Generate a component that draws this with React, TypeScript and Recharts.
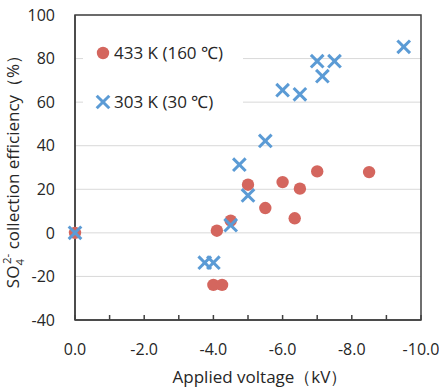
import React from 'react';
import {
  ScatterChart,
  Scatter,
  XAxis,
  YAxis,
  CartesianGrid,
  Legend,
  ReferenceArea,
} from 'recharts';

// Series 1: 433 K (160 ℃)
const hotVoltage = [0, -4.1, -4.0, -4.25, -4.5, -5.0, -5.5, -6.0, -6.5, -6.35, -7.0, -8.5];
const hotEfficiency = [0, 1, -23.9, -23.9, 5.6, 22.1, 11.4, 23.3, 20.3, 6.7, 28.2, 27.9];

// Series 2: 303 K (30 ℃)
const coldVoltage = [0, -3.75, -4.0, -4.5, -4.75, -5.0, -5.5, -6.0, -6.5, -7.0, -7.15, -7.5, -9.5];
const coldEfficiency = [0, -13.7, -13.7, 3.5, 31.3, 17.2, 42.2, 65.5, 63.6, 78.8, 71.9, 78.8, 85.4];

const xTicks = [0, -1, -2, -3, -4, -5, -6, -7, -8, -9, -10];
const yTicks = [-40, -20, 0, 20, 40, 60, 80, 100];

const hotLabel = '433 K (160 ℃)';
const coldLabel = '303 K (30 ℃)';
const xTitle = 'Applied voltage（kV）';

const RED = '#D4665E';
const BLUE = '#5B9BD5';
const TEXT = '#262626';
const FONT = "'Open Sans', sans-serif";

const hotData = hotVoltage.map((v, i) => ({ v, e: hotEfficiency[i] }));
const coldData = coldVoltage.map((v, i) => ({ v, e: coldEfficiency[i] }));

const Dot = (props: any) => {
  const { cx, cy } = props;
  if (cx == null || cy == null) return null;
  return <circle cx={cx} cy={cy} r={6.2} fill={RED} />;
};

const Cross = (props: any) => {
  const { cx, cy } = props;
  if (cx == null || cy == null) return null;
  const s = 6.3;
  return (
    <g stroke={BLUE} strokeWidth={3}>
      <line x1={cx - s} y1={cy - s} x2={cx + s} y2={cy + s} />
      <line x1={cx - s} y1={cy + s} x2={cx + s} y2={cy - s} />
    </g>
  );
};

const YTitle = (props: any) => {
  const vb = props.viewBox || { x: 0, y: 15, width: 75, height: 305 };
  const cx = vb.x + 19;
  const cy = vb.y + vb.height / 2;
  return (
    <text
      transform={`translate(${cx},${cy}) rotate(-90)`}
      textAnchor="middle"
      fontSize={17}
      fontFamily={FONT}
      fill={TEXT}
    >
      SO
      <tspan dy={5} fontSize={11.5}>4</tspan>
      <tspan dy={-13} dx={-5} fontSize={11.5}>2-</tspan>
      <tspan dy={8}> collection efficiency（%）</tspan>
    </text>
  );
};

const XTitle = (props: any) => {
  const vb = props.viewBox || { x: 75, y: 320, width: 346, height: 72 };
  return (
    <text
      x={vb.x + vb.width / 2 + 12}
      y={vb.y + 63}
      textAnchor="middle"
      fontSize={17}
      fontFamily={FONT}
      fill={TEXT}
    >
      {xTitle}
    </text>
  );
};

const LegendBox = () => (
  <div
    style={{
      position: 'relative',
      width: 160,
      height: 85,
      background: '#fff',
      fontFamily: FONT,
      fontSize: 17,
      color: TEXT,
    }}
  >
    <svg width={20} height={20} style={{ position: 'absolute', left: 10, top: 8 }}>
      <Dot cx={10} cy={10} />
    </svg>
    <div style={{ position: 'absolute', left: 31, top: 7, whiteSpace: 'nowrap', lineHeight: '22px' }}>
      {hotLabel}
    </div>
    <svg width={20} height={20} style={{ position: 'absolute', left: 10, top: 57 }}>
      <Cross cx={10} cy={10} />
    </svg>
    <div style={{ position: 'absolute', left: 31, top: 56, whiteSpace: 'nowrap', lineHeight: '22px' }}>
      {coldLabel}
    </div>
  </div>
);

export default function App() {
  return (
    <div style={{ position: 'absolute', left: 0, top: 0, width: 439, height: 392, background: '#fff' }}>
      <ScatterChart
        width={439}
        height={392}
        margin={{ top: 15, right: 18, bottom: 0, left: 0 }}
        style={{ fontFamily: FONT }}
      >
        <CartesianGrid horizontal vertical={false} stroke="#D9D9D9" strokeWidth={1} />
        <XAxis
          type="number"
          dataKey="v"
          domain={[-10, 0]}
          reversed
          ticks={xTicks}
          interval={0}
          height={72}
          tickFormatter={(v: number) => (v % 2 === 0 ? v.toFixed(1) : '')}
          tick={{ fill: TEXT, fontSize: 16, fontFamily: FONT }}
          tickSize={-5}
          tickMargin={29}
          axisLine={{ stroke: '#404040', strokeWidth: 1.5 }}
          tickLine={{ stroke: '#404040', strokeWidth: 1.5 }}
          label={<XTitle />}
        />
        <YAxis
          type="number"
          dataKey="e"
          domain={[-40, 100]}
          ticks={yTicks}
          interval={0}
          width={75}
          tick={{ fill: TEXT, fontSize: 16, fontFamily: FONT }}
          tickSize={0}
          tickMargin={20}
          tickLine={false}
          axisLine={{ stroke: '#404040', strokeWidth: 1.5 }}
          label={<YTitle />}
        />
        <ReferenceArea
          x1={-10}
          x2={0}
          y1={-40}
          y2={100}
          fill="none"
          fillOpacity={0}
          stroke="#404040"
          strokeWidth={1.5}
          ifOverflow="visible"
        />
        <Scatter name={hotLabel} data={hotData} shape={<Dot />} isAnimationActive={false} />
        <Scatter name={coldLabel} data={coldData} shape={<Cross />} isAnimationActive={false} />
        <Legend
          layout="vertical"
          align="center"
          verticalAlign="middle"
          content={() => <LegendBox />}
          wrapperStyle={{ left: 83, top: 35, width: 160, height: 85 }}
        />
      </ScatterChart>
    </div>
  );
}
